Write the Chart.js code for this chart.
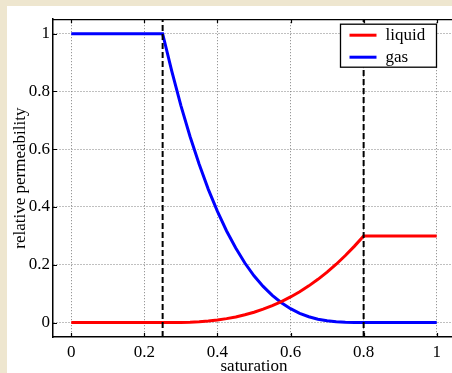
<!DOCTYPE html>
<html>
<head>
<meta charset="utf-8">
<script src="https://cdn.jsdelivr.net/npm/chart.js@4/dist/chart.umd.min.js"></script>
<style>
  html, body { margin: 0; padding: 0; background: #EEE6CF; overflow: hidden; }
  #panel { position: absolute; left: 7px; top: 6px; width: 600px; height: 600px; background: #fff; overflow: hidden; }
  #chart { position: absolute; left: 0; top: 0; }
</style>
</head>
<body>
<div id="panel"><canvas id="chart" width="450" height="371"></canvas></div>
<script>
// saturation samples
const saturation = [0, 0.25, 0.275, 0.3, 0.325, 0.35, 0.375, 0.4, 0.425, 0.45, 0.475, 0.5, 0.525,
                    0.55, 0.575, 0.6, 0.625, 0.65, 0.675, 0.7, 0.725, 0.75, 0.775, 0.8, 1];
// relative permeability
const liquidValues = [0, 0, 0.0001, 0.0005, 0.0014, 0.003, 0.0055, 0.009, 0.0136, 0.0195, 0.0268, 0.0357, 0.0462,
                      0.0584, 0.0725, 0.0886, 0.1067, 0.127, 0.1496, 0.1745, 0.2019, 0.2319, 0.2646, 0.3, 0.3];
const gasValues = [1, 1, 0.870, 0.751, 0.644, 0.548, 0.461, 0.385, 0.317, 0.258, 0.206, 0.162, 0.125,
                   0.094, 0.0685, 0.048, 0.032, 0.020, 0.0117, 0.006, 0.0025, 0.0008, 0.0002, 0, 0];
// vertical dashed markers
const cutoffs = [0.25, 0.8];

const xTicks = [0, 0.2, 0.4, 0.6, 0.8, 1];
const xTickLabels = ['0', '0.2', '0.4', '0.6', '0.8', '1'];
const yTicks = [0, 0.2, 0.4, 0.6, 0.8, 1];
const yTickLabels = ['0', '0.2', '0.4', '0.6', '0.8', '1'];

const FONT = { family: "'Liberation Serif', 'Times New Roman', serif", size: 17 };

const toPoints = (vals) => saturation.map((s, i) => ({ x: s, y: vals[i] }));

const datasets = [
  { label: 'liquid', data: toPoints(liquidValues), borderColor: '#ff0000', borderWidth: 3, order: 1 },
  { label: 'gas', data: toPoints(gasValues), borderColor: '#0000ff', borderWidth: 3, order: 1 }
];
cutoffs.forEach(c => {
  datasets.push({
    label: '', data: [{ x: c, y: -0.05 }, { x: c, y: 1.05 }],
    borderColor: '#000', borderWidth: 2, borderDash: [6, 3], order: 0
  });
});

// top frame line, inward tick marks, boxed legend
const framePlugin = {
  id: 'frame',
  afterDatasetsDraw(chart) {
    const { ctx, chartArea: a, scales: { x, y } } = chart;
    ctx.save();
    ctx.strokeStyle = '#000';
    ctx.lineWidth = 1.2;
    ctx.beginPath();
    ctx.moveTo(a.left, a.top + 0.5); ctx.lineTo(a.right, a.top + 0.5);
    xTicks.forEach(v => {
      const px = Math.round(x.getPixelForValue(v)) + 0.5;
      ctx.moveTo(px, a.bottom); ctx.lineTo(px, a.bottom - 4);
      ctx.moveTo(px, a.top); ctx.lineTo(px, a.top + 4);
    });
    yTicks.forEach(v => {
      const py = Math.round(y.getPixelForValue(v)) + 0.5;
      ctx.moveTo(a.left, py); ctx.lineTo(a.left + 4, py);
    });
    ctx.stroke();

    // legend
    const items = chart.data.datasets.filter(d => d.label);
    const bw = 96, bh = 43;
    const bx = a.right - 18.5 - bw, by = a.top + 5;
    ctx.fillStyle = '#fff';
    ctx.fillRect(bx, by, bw, bh);
    ctx.lineWidth = 1.3;
    ctx.strokeRect(bx, by, bw, bh);
    ctx.font = `${FONT.size}px ${FONT.family}`;
    ctx.textBaseline = 'middle';
    items.forEach((d, i) => {
      const cy = by + 11 + i * 22;
      ctx.strokeStyle = d.borderColor;
      ctx.lineWidth = 3;
      ctx.beginPath();
      ctx.moveTo(bx + 9, cy); ctx.lineTo(bx + 36, cy);
      ctx.stroke();
      ctx.fillStyle = '#000';
      ctx.fillText(d.label, bx + 45, cy);
    });
    ctx.restore();
  }
};

new Chart(document.getElementById('chart'), {
  type: 'line',
  data: { datasets },
  plugins: [framePlugin],
  options: {
    responsive: false,
    animation: false,
    devicePixelRatio: 1,
    layout: { padding: { top: 13, right: 2, left: 0, bottom: 0 } },
    elements: { point: { radius: 0 }, line: { tension: 0 } },
    plugins: { legend: { display: false }, tooltip: { enabled: false } },
    scales: {
      x: {
        type: 'linear', min: -0.05, max: 1.05,
        afterFit: s => { s.height = 40; },
        afterBuildTicks: s => { s.ticks = xTicks.map(v => ({ value: v })); },
        ticks: { color: '#000', font: FONT, padding: 5, maxRotation: 0,
                 callback: (v) => xTickLabels[xTicks.indexOf(v)] },
        grid: { color: '#808080', lineWidth: 1, drawTicks: false },
        border: { color: '#000', width: 1.5, dash: [1, 2] },
        title: { display: true, text: 'saturation', color: '#000', font: FONT, padding: 0 }
      },
      y: {
        type: 'linear', min: -0.05, max: 1.05,
        afterFit: s => { s.width = 46; },
        afterBuildTicks: s => { s.ticks = yTicks.map(v => ({ value: v })); },
        ticks: { color: '#000', font: FONT, padding: 3,
                 callback: (v) => yTickLabels[yTicks.indexOf(v)] },
        grid: { color: '#808080', lineWidth: 1, drawTicks: false },
        border: { color: '#000', width: 1.5, dash: [1, 2] },
        title: { display: true, text: 'relative permeability', color: '#000', font: FONT, padding: { top: 3, bottom: 0 } }
      }
    }
  }
});
</script>
</body>
</html>
